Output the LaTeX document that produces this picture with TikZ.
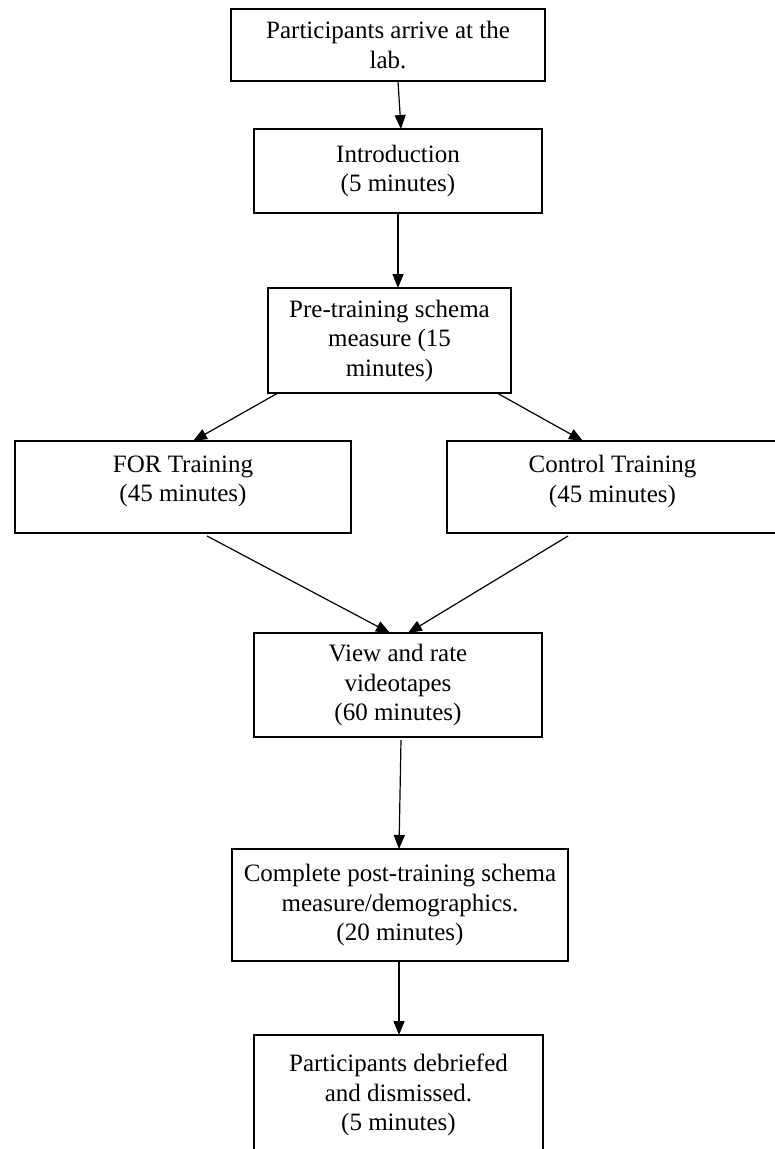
\documentclass[tikz,border=0pt]{standalone}
\usepackage{fontspec}
\setmainfont{Liberation Serif}
\usepackage{tikz}
\usetikzlibrary{positioning,arrows.meta}

\begin{document}
\begin{tikzpicture}[->,>={Triangle[length=14pt,width=11pt]},line width=1.2pt,
      box node/.style={rectangle,draw,line width=1.6pt,align=center,inner sep=2pt,outer sep=0pt,
        font=\fontsize{25}{29.5}\selectfont}]
      \clip (0,0) rectangle (775pt,-1149pt);
      \node[box node,minimum width=314pt,minimum height=72pt] (arrive) at (388pt,-45pt) {Participants arrive at the\\lab.};
      \node[box node,minimum width=288pt,minimum height=84pt] (intro) [below=48pt of arrive,xshift=10pt] {Introduction\\(5 minutes)};
      \node[box node,minimum width=243pt,minimum height=105pt] (pre) [below=75pt of intro,xshift=-8.5pt] {Pre-training schema\\measure (15\\minutes)};
      \node[box node,minimum width=336pt,minimum height=92pt] (for) [below=48pt of pre,xshift=-206.5pt] {FOR Training\\(45 minutes)\\[-13pt]\mbox{}};
      \node[box node,minimum width=331pt,minimum height=92pt] (ctrl) [right=96pt of for] {Control Training\\(45 minutes)\\[-13pt]\mbox{}};
      \node[box node,minimum width=288pt,minimum height=104pt] (view) [below=240pt of pre,xshift=8.5pt] {View and rate\\videotapes\\(60 minutes)};
      \node[box node,minimum width=336pt,minimum height=112pt] (post) [below=112pt of view,xshift=2pt] {Complete post-training schema\\measure/demographics.\\(20 minutes)};
      \node[box node,minimum width=289pt,minimum height=120pt] (debrief) [below=74pt of post,xshift=-1.5pt] {Participants debriefed\\and dismissed.\\(5 minutes)};

      \path[->]
        ([xshift=10pt]arrive.south) edge ([xshift=3pt]intro.north)
        (intro.south) edge ([xshift=8.5pt]pre.north)
        ([xshift=10pt]pre.south west) edge ([xshift=10pt]for.north)
        ([xshift=-14pt]pre.south east) edge ([xshift=-29.5pt]ctrl.north)
        ([xshift=24pt,yshift=-3pt]for.south) edge ([xshift=-8pt]view.north)
        ([xshift=-44.5pt,yshift=-3pt]ctrl.south) edge ([xshift=10pt]view.north)
        ([xshift=3pt,yshift=-3pt]view.south) edge ([xshift=-1pt]post.north)
        ([xshift=-1pt]post.south) edge ([xshift=0.5pt]debrief.north);
    \end{tikzpicture}
\end{document}
